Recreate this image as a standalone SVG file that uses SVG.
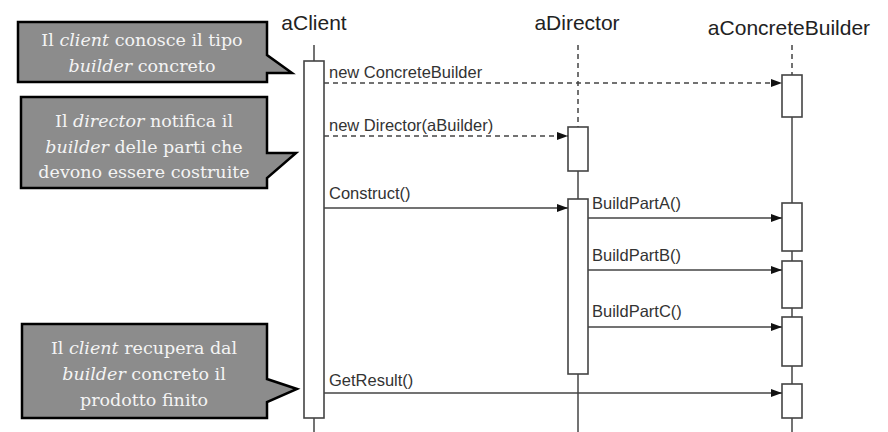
<svg xmlns="http://www.w3.org/2000/svg" width="888" height="432" viewBox="0 0 888 432">
<defs>
<style>
.head{font-family:"Liberation Sans",Arial,sans-serif;font-size:21px;fill:#222;text-anchor:middle}
.lbl{font-family:"Liberation Sans",Arial,sans-serif;font-size:16.5px;fill:#333}
.life{stroke:#444;stroke-width:1.5;fill:none}
.dash{stroke-dasharray:5 4}
.act{fill:#fff;stroke:#444;stroke-width:1.6}
.msg{stroke:#444;stroke-width:1.6;fill:none;marker-end:url(#ah)}
.note{fill:#8c8c8c;stroke:#000;stroke-width:2.5;stroke-linejoin:miter}
.nt{font-family:"DejaVu Serif","Liberation Serif",serif;font-size:17.5px;fill:#f4f4f4;text-anchor:middle}
.it{font-style:italic}
</style>
<marker id="ah" markerWidth="12" markerHeight="10" refX="11" refY="5" orient="auto" markerUnits="userSpaceOnUse">
<path d="M0,1 L11,5 L0,9 Z" fill="#111"/>
</marker>
</defs>
<rect width="888" height="432" fill="#fff"/>

<g id="aClient">
<text class="head" x="314" y="30">aClient</text>
<line class="life" x1="314" y1="45" x2="314" y2="61"/>
<line class="life" x1="314" y1="418" x2="314" y2="432"/>
<rect class="act" x="304" y="61" width="20" height="357"/>
</g>

<g id="aDirector">
<text class="head" x="577" y="30">aDirector</text>
<line class="life dash" x1="578" y1="45" x2="578" y2="127"/>
<line class="life" x1="578" y1="171" x2="578" y2="199"/>
<line class="life" x1="578" y1="374" x2="578" y2="432"/>
<rect class="act" x="568" y="127" width="20" height="44"/>
<rect class="act" x="568" y="199" width="20" height="175"/>
</g>

<g id="aConcreteBuilder">
<text class="head" x="789" y="35">aConcreteBuilder</text>
<line class="life dash" x1="792" y1="45" x2="792" y2="75"/>
<line class="life" x1="792" y1="117" x2="792" y2="432"/>
<rect class="act" x="782" y="75" width="20" height="42"/>
<rect class="act" x="782" y="203" width="20" height="48"/>
<rect class="act" x="782" y="261" width="20" height="47"/>
<rect class="act" x="782" y="317" width="20" height="49"/>
<rect class="act" x="782" y="384" width="20" height="34"/>
</g>

<g id="connectors">
<line class="msg dash" x1="324" y1="83" x2="782" y2="83"/>
<text class="lbl" x="329" y="78">new ConcreteBuilder</text>
<line class="msg dash" x1="324" y1="136" x2="568" y2="136"/>
<text class="lbl" x="329" y="131">new Director(aBuilder)</text>
<line class="msg" x1="324" y1="208" x2="568" y2="208"/>
<text class="lbl" x="329" y="199">Construct()</text>
<line class="msg" x1="588" y1="218" x2="782" y2="218"/>
<text class="lbl" x="592" y="209">BuildPartA()</text>
<line class="msg" x1="588" y1="270" x2="782" y2="270"/>
<text class="lbl" x="592" y="261">BuildPartB()</text>
<line class="msg" x1="588" y1="327" x2="782" y2="327"/>
<text class="lbl" x="592" y="317">BuildPartC()</text>
<line class="msg" x1="324" y1="393" x2="782" y2="393"/>
<text class="lbl" x="329" y="386">GetResult()</text>
</g>

<g id="note1">
<path class="note" d="M18,22 H267 V55 L292,73 H267 V82 H18 Z"/>
<text class="nt" x="142" y="46">Il <tspan class="it">client</tspan> conosce il tipo</text>
<text class="nt" x="142" y="72"><tspan class="it">builder</tspan> concreto</text>
</g>

<g id="note2">
<path class="note" d="M21,97 H267 V153 H296 L267,178 V188 H21 Z"/>
<text class="nt" x="144" y="127">Il <tspan class="it">director</tspan> notifica il</text>
<text class="nt" x="144" y="152.5"><tspan class="it">builder</tspan> delle parti che</text>
<text class="nt" x="144" y="178">devono essere costruite</text>
</g>

<g id="note3">
<path class="note" d="M22,324 H267 V379 L297,389 L267,402 V418 H22 Z"/>
<text class="nt" x="144" y="354">Il <tspan class="it">client</tspan> recupera dal</text>
<text class="nt" x="144" y="380"><tspan class="it">builder</tspan> concreto il</text>
<text class="nt" x="144" y="406">prodotto finito</text>
</g>
</svg>
